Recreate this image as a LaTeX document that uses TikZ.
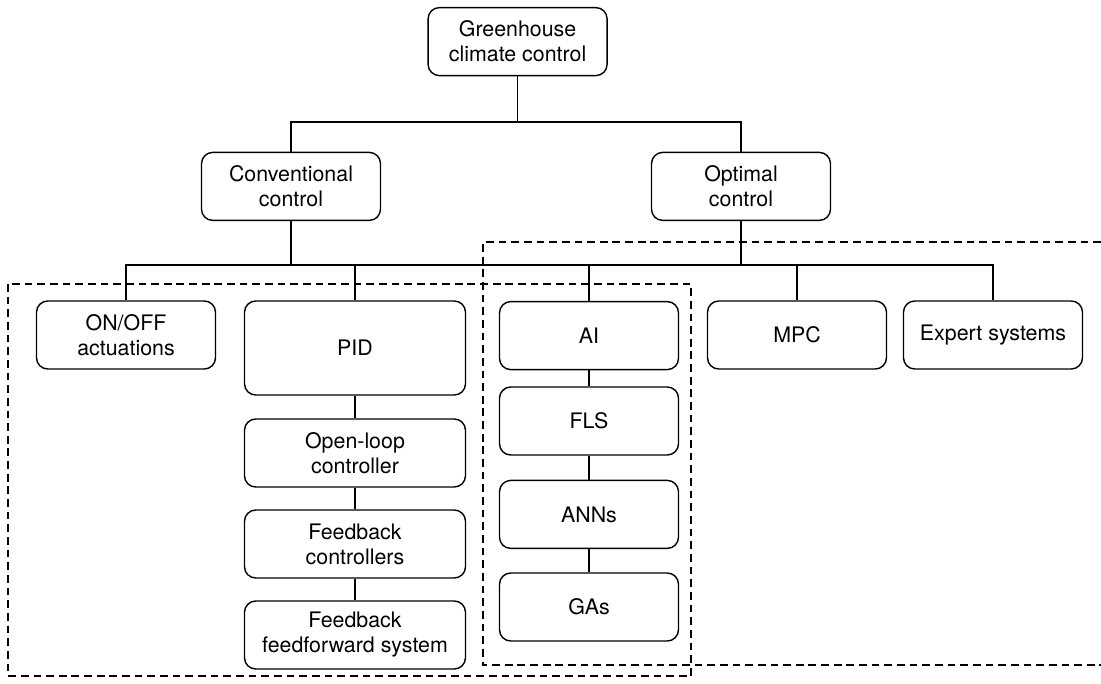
\documentclass[tikz,border=0pt]{standalone}
\usepackage{fontspec}
\setmainfont{TeX Gyre Heros}
\usetikzlibrary{positioning}

\begin{document}
\begin{tikzpicture}[
    box/.style={draw, line width=1pt, rounded corners=8pt, align=center, minimum width=4.475cm, minimum height=1.7cm, inner sep=2pt, font=\fontsize{15.2}{17.8}\selectfont},
    widebox/.style={box, minimum width=5.525cm},
    link/.style={line width=1pt},
    group/.style={line width=1pt, dash pattern=on 5.5pt off 3.5pt}
]
\useasboundingbox (0,0) rectangle (27.525,-17.075);

%Top levels
\node[box] (gh) at (12.94,-1.04) {Greenhouse\\climate control};
\node[box] (conv) at (7.275,-4.66) {Conventional\\control};
\node[box] (opt) at (18.525,-4.66) {Optimal\\control};

%Conventional branch
\node[box] (onoff) at (3.15,-8.375) {ON/OFF\\actuations};
\node[widebox, minimum height=2.35cm] (pid) at (8.875,-8.7) {PID};
\node[widebox] (ol) at (8.875,-11.325) {Open-loop\\controller};
\node[widebox] (fb) at (8.875,-13.6) {Feedback\\controllers};
\node[widebox] (ff) at (8.875,-15.875) {Feedback\\feedforward system};

%Optimal branch
\node[box] (ai) at (14.725,-8.39) {AI};
\node[box] (fls) at (14.725,-10.525) {FLS};
\node[box] (anns) at (14.725,-12.86) {ANNs};
\node[box] (gas) at (14.725,-15.175) {GAs};
\node[box] (mpc) at (19.925,-8.375) {MPC};
\node[box] (expert) at (24.825,-8.375) {Expert systems};

%Tree lines
\coordinate (top) at (0,-3.05);
\coordinate (mid) at (0,-6.625);
\draw[link] (gh) -- (gh.south |- top);
\draw[link] (conv.north) |- (gh.south |- top) -| (opt.north);
\draw[link] (onoff.north) |- (mid -| expert.north) -- (expert.north);
\foreach \n in {conv, opt}
\draw[link] (\n.south) -- (\n.south |- mid);
\foreach \n in {pid, ai, mpc}
\draw[link] (\n.north) -- (\n.north |- mid);

%Chains
\foreach \a/\b in {pid/ol, ol/fb, fb/ff, ai/fls, fls/anns, anns/gas}
\draw[link] (\a) -- (\b);

%Dashed groups
\draw[group] (0.2,-7.1) rectangle (17.275,-16.9);
\draw[group] (27.525,-6.05) -- (12.075,-6.05) -- (12.075,-16.625) -- (27.525,-16.625);

\end{tikzpicture}
\end{document}
